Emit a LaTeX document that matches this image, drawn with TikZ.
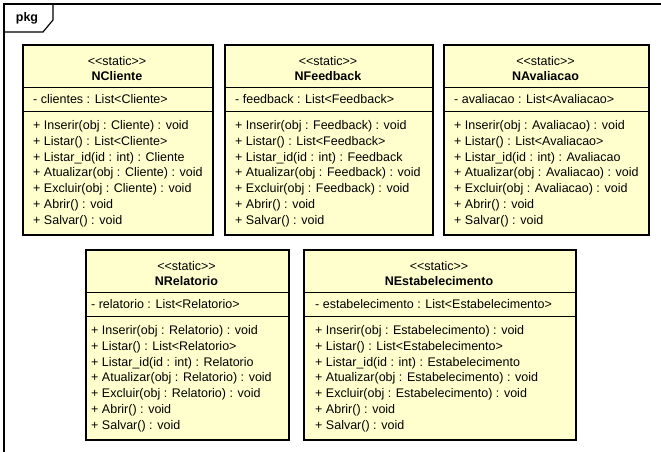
\documentclass[tikz,border=0pt]{standalone}
\usepackage{fontspec}
\setmainfont{Liberation Sans}
\definecolor{clsfill}{HTML}{FFFFCE}
\newcommand{\stlt}{\textless\kern0pt\textless\kern0pt}
\newcommand{\stgt}{\kern0pt\textgreater\kern0pt\textgreater}
\newcommand{\umlcls}[8]{%
  \node[clsbox, minimum width=#4pt] (#1) at (#2,#3) {};
  \draw[sepline] ({#2},{#3+43}) -- ({#2+#4},{#3+43});
  \draw[sepline] ({#2},{#3+67}) -- ({#2+#4},{#3+67});
  \node[lbl, anchor=base] (#1-st) at ({#2+#4/2},{#3+21.5}) {\stlt static\stgt};
  \node[lbl, anchor=base, font=\fontsize{12.5}{15.8}\selectfont\bfseries] (#1-nm) at ({#2+#4/2},{#3+36.5}) {#6};
  \node[lbl, anchor=base west] (#1-at) at ({#5},{#3+59.5}) {- #7 : List\textless #8\textgreater};
  \node[lbl, anchor=base west] (#1-m1) at ({#5},{#3+85.5}) {+ Inserir(obj : #8) : void};
  \node[lbl, anchor=base west] (#1-m2) at ({#5},{#3+101.3}) {+ Listar() : List\textless #8\textgreater};
  \node[lbl, anchor=base west] (#1-m3) at ({#5},{#3+117.1}) {+ Listar\_id(id : int) : #8};
  \node[lbl, anchor=base west] (#1-m4) at ({#5},{#3+132.9}) {+ Atualizar(obj : #8) : void};
  \node[lbl, anchor=base west] (#1-m5) at ({#5},{#3+148.7}) {+ Excluir(obj : #8) : void};
  \node[lbl, anchor=base west] (#1-m6) at ({#5},{#3+164.5}) {+ Abrir() : void};
  \node[lbl, anchor=base west] (#1-m7) at ({#5},{#3+180.3}) {+ Salvar() : void};
}
\begin{document}
\begin{tikzpicture}[x=1pt,y=-1pt,
  font=\fontsize{12.5}{15.8}\selectfont,
  clsbox/.style={draw=black, line width=2pt, fill=clsfill, rectangle, inner sep=0pt,
    minimum height=189.5pt, anchor=north west},
  sepline/.style={draw=black, line width=1pt},
  lbl/.style={inner sep=0pt, text=black},
  frameline/.style={draw=black, line width=1.2pt}]
\useasboundingbox (0,0) rectangle (661,452);
\fill[white] (0,0) rectangle (661,452);
% package frame
\draw[frameline] (4,452) -- (4,4) -- (661,4);
\draw[frameline] (4,32) -- (43,32) -- (53,20) -- (53,4);
\node[lbl, anchor=base, font=\fontsize{12.5}{15.8}\selectfont\bfseries] (pkg) at (27,22) {pkg};
% classes
\umlcls{cli}{22}{44}{190}{33}{NCliente}{clientes}{Cliente}
\umlcls{fb}{224}{44}{208}{235}{NFeedback}{feedback}{Feedback}
\umlcls{av}{443}{44}{205}{454}{NAvaliacao}{avaliacao}{Avaliacao}
\umlcls{rel}{85}{249}{203}{91}{NRelatorio}{relatorio}{Relatorio}
\umlcls{est}{303}{249}{272}{315}{NEstabelecimento}{estabelecimento}{Estabelecimento}
\end{tikzpicture}
\end{document}
